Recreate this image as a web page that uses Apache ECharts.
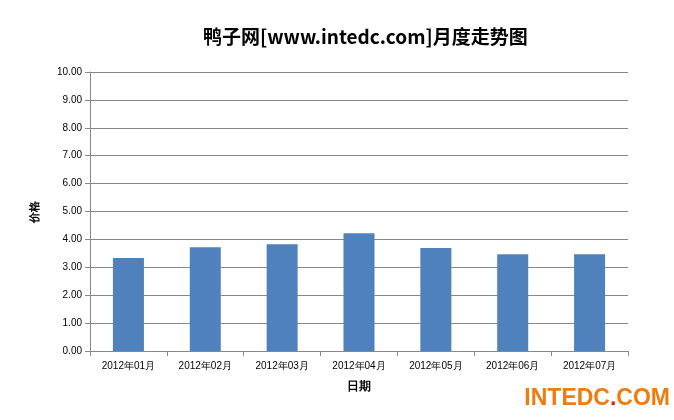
<!DOCTYPE html>
<html><head><meta charset="utf-8">
<script src="https://cdn.jsdelivr.net/npm/echarts@6/dist/echarts.min.js"></script>
<style>body{margin:0;background:#fff}#main{width:674px;height:420px}</style>
</head><body><div id="main"></div>
<script>
let months = ['2012年01月','2012年02月','2012年03月','2012年04月','2012年05月','2012年06月','2012年07月'];
let prices = [3.33, 3.72, 3.83, 4.22, 3.69, 3.47, 3.47];

let myChart = echarts.init(document.getElementById('main'));
let option = {
    animation: false,
    title: {
        text: '鸭子网[www.intedc.com]月度走势图',
        left: 198, top: 22,
        textStyle: {fontSize: 19, fontWeight: 'bold', color: '#000', fontFamily: 'Noto Sans CJK SC'}
    },
    graphic: [{
        type: 'text', right: 4, bottom: 10,
        style: {
            text: '{a|INTEDC}{b|.}{a|COM}',
            rich: {
                a: {fontSize: 23, fontWeight: 'bold', fill: '#f07c10', color: '#f07c10', fontFamily: 'Liberation Sans'},
                b: {fontSize: 23, fontWeight: 'bold', fill: '#e02020', color: '#e02020', fontFamily: 'Liberation Sans'}
            }
        }
    }],
    grid: {left: 90, right: 46, top: 72, bottom: 69},
    xAxis: {
        type: 'category', data: months,
        name: '日期', nameLocation: 'middle', nameGap: 30,
        nameTextStyle: {fontWeight: 'bold', fontSize: 12, color: '#000'},
        axisLine: {lineStyle: {color: '#888'}},
        axisTick: {show: true, lineStyle: {color: '#888'}},
        axisLabel: {color: '#000', fontSize: 10, margin: 10}
    },
    yAxis: {
        type: 'value', min: 0, max: 10, interval: 1,
        name: '价格', nameLocation: 'middle', nameGap: 50, nameRotate: 90,
        nameTextStyle: {fontWeight: 'bold', fontSize: 11, color: '#000'},
        axisLine: {show: true, lineStyle: {color: '#888'}},
        axisTick: {show: true, lineStyle: {color: '#888'}},
        splitLine: {lineStyle: {color: '#888'}},
        axisLabel: {color: '#000', fontSize: 10, formatter: v => v.toFixed(2)}
    },
    series: [{
        name: '价格', type: 'bar', data: prices,
        barWidth: 31,
        itemStyle: {color: '#4f81bd'}
    }]
};
myChart.setOption(option);
</script></body></html>
